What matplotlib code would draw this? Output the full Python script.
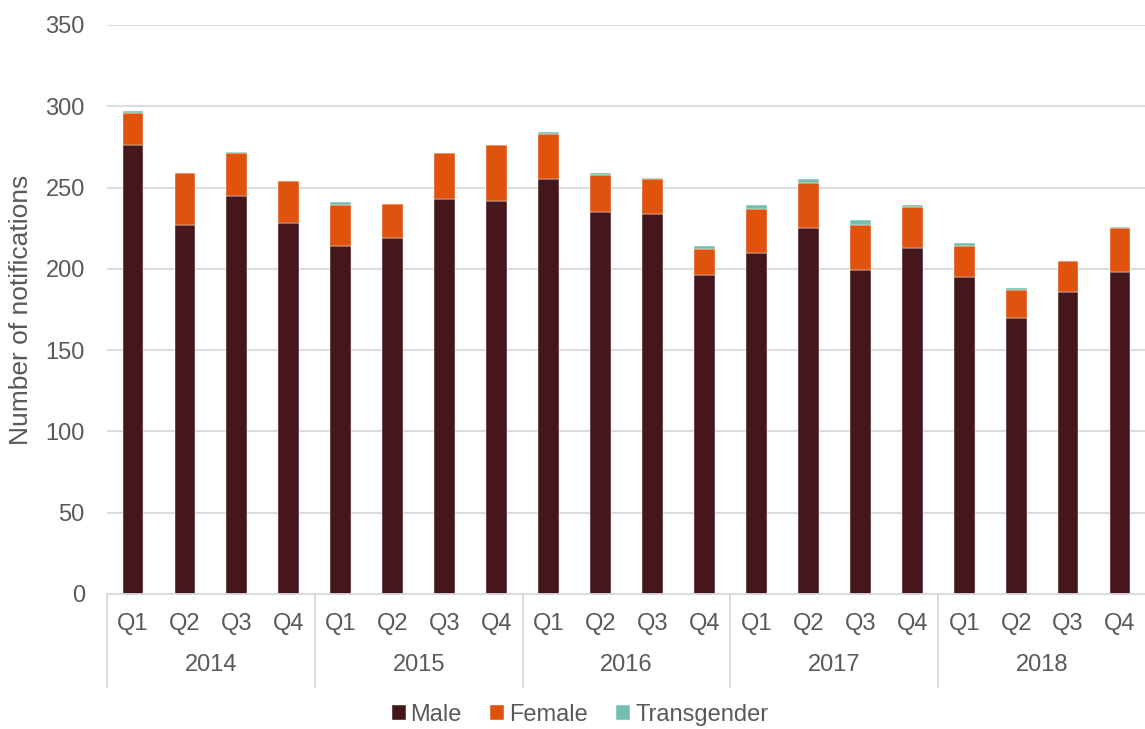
import matplotlib
matplotlib.use("Agg")
import matplotlib.pyplot as plt
import numpy as np

years = ["2014", "2015", "2016", "2017", "2018"]
quarters = ["Q1", "Q2", "Q3", "Q4"]
male = [276, 227, 245, 228, 214, 219, 243, 242, 255, 235, 234, 196, 210, 225, 199, 213, 195, 170, 186, 198]
female = [20, 32, 26, 26, 25, 21, 28, 34, 28, 23, 21, 16, 27, 28, 28, 25, 19, 17, 19, 27]
transgender = [1, 0, 1, 0, 2, 0, 0, 0, 1, 1, 1, 2, 2, 2, 3, 1, 2, 1, 0, 1]
yticks = [0, 50, 100, 150, 200, 250, 300, 350]

plt.rcParams['font.family'] = ['Liberation Sans', 'DejaVu Sans']
TXT = '#595959'
GRID = '#d9d9d9'
c_male, c_female, c_trans = '#45161c', '#e0530f', '#72bfb1'
FS = 17

fig = plt.figure(figsize=(11.45, 7.29), dpi=100)
ax = fig.add_axes([107/1145, 1 - 594/729, (1146 - 107)/1145, (594 - 25)/729])

n = len(male)
x = np.arange(n)
m = np.array(male); f = np.array(female); t = np.array(transgender)
w = 0.4
ax.bar(x, m, w, color=c_male, label='Male', edgecolor='white', linewidth=0.3)
ax.bar(x, f, w, bottom=m, color=c_female, label='Female', edgecolor='white', linewidth=0.3)
ax.bar(x, t, w, bottom=m + f, color=c_trans, label='Transgender', edgecolor='white', linewidth=0.3)

ax.set_xlim(-0.5, n - 0.5)
ax.set_ylim(0, 350)
ax.set_yticks(yticks)
ax.set_yticklabels([str(v) for v in yticks])
ax.yaxis.grid(True, color=GRID, linewidth=1.3)
ax.set_axisbelow(True)
for s in ['left', 'right', 'top']:
    ax.spines[s].set_visible(False)
ax.spines['bottom'].set_color(GRID)
ax.spines['bottom'].set_linewidth(1.3)
ax.tick_params(axis='y', length=0, pad=16, labelsize=FS, labelcolor=TXT)
ax.set_xticks(x)
ax.set_xticklabels([quarters[i % 4] for i in range(n)], fontsize=FS, color=TXT)
ax.tick_params(axis='x', length=0, pad=14)

# year labels and separators
trans = ax.get_xaxis_transform()
px = 1 / (594 - 25)  # axes fraction per pixel
for k, yr in enumerate(years):
    ax.text(4 * k + 1.5, -(665 - 594) * px, yr, transform=trans, ha='center', va='center',
            fontsize=FS, color=TXT)
for k in range(len(years) + 1):
    ax.plot([4 * k - 0.5, 4 * k - 0.5], [0, -(687 - 594) * px], transform=trans,
            color=GRID, linewidth=1.3, clip_on=False)

ax.set_ylabel('Number of notifications', fontsize=19, color=TXT)
ax.yaxis.set_label_coords(-(107 - 33) / 1039, 0.5)

handles, labels = ax.get_legend_handles_labels()
leg = fig.legend(handles, labels, loc='center', bbox_to_anchor=(580/1145, 1 - 715/729), ncol=3,
                 frameon=False, fontsize=FS, handlelength=0.6, handleheight=0.6,
                 handletextpad=0.2, columnspacing=1.2, labelcolor=TXT)

fig.savefig('out.png', dpi=100)
